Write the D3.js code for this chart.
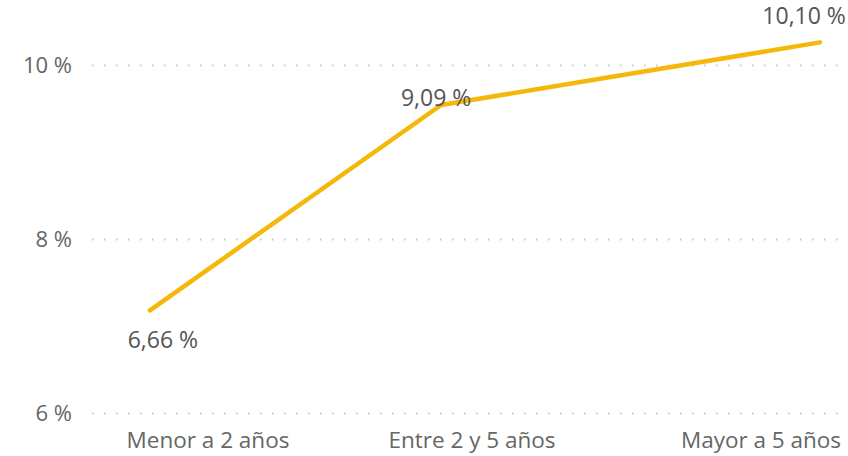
<!DOCTYPE html>
<html>
<head>
<meta charset="utf-8">
<script src="https://cdn.jsdelivr.net/npm/d3@7"></script>
<style>
  body { margin: 0; background: #fff; }
  text { font-family: "Open Sans", "Noto Sans", sans-serif; }
</style>
</head>
<body>
<div id="chart"></div>
<script>
// categories and their label positions (in category units)
var categories = ["Menor a 2 años", "Entre 2 y 5 años", "Mayor a 5 años"];
var categoryPos = [0, 0.955, 2];
// line points as they sit in the picture
var pointPos = [-0.21, 0.843, 2.213];
var pointValues = [7.18, 9.54, 10.26];
var pointLabels = ["6,66 %", "9,09 %", "10,10 %"];
var yTicks = [6, 8, 10];

var W = 848, H = 456;

var x = d3.scaleLinear().domain([0, 2]).range([208, 761]);
var y = d3.scaleLinear().domain([6, 10]).range([413, 65]);

var svg = d3.select("#chart").append("svg")
  .attr("width", W)
  .attr("height", H);

// gridlines (dotted)
var yAxis = d3.axisLeft(y)
  .tickValues(yTicks)
  .tickSize(-748)
  .tickPadding(20)
  .tickFormat(function(d) { return d + " %"; });

var gy = svg.append("g")
  .attr("transform", "translate(92,0)")
  .call(yAxis);
gy.select(".domain").remove();
gy.selectAll("line")
  .attr("stroke", "#c8c8c8")
  .attr("stroke-width", 2)
  .attr("stroke-dasharray", "1.5,10.5");
gy.selectAll("text")
  .attr("fill", "#666")
  .attr("font-size", 22)
  .attr("x", -20);

// category labels
svg.append("g").selectAll("text")
  .data(categories)
  .enter().append("text")
    .attr("x", function(d, i) { return x(categoryPos[i]); })
    .attr("y", 448)
    .attr("text-anchor", "middle")
    .attr("fill", "#666")
    .attr("font-size", 22.5)
    .text(function(d) { return d; });

// the line
var pts = pointValues.map(function(v, i) { return [pointPos[i], v]; });
var line = d3.line()
  .x(function(d) { return x(d[0]); })
  .y(function(d) { return y(d[1]); });

svg.append("path")
  .datum(pts)
  .attr("d", line)
  .attr("fill", "none")
  .attr("stroke", "#F5B80A")
  .attr("stroke-width", 4.5)
  .attr("stroke-linecap", "round")
  .attr("stroke-linejoin", "round");

// data labels (last one kept inside the right edge)
var labelOffset = [[13, 38], [-5, 1], [26, -18]];
var labelAnchor = ["middle", "middle", "end"];
svg.append("g").selectAll("text")
  .data(pointLabels)
  .enter().append("text")
    .attr("x", function(d, i) { return x(pointPos[i]) + labelOffset[i][0]; })
    .attr("y", function(d, i) { return y(pointValues[i]) + labelOffset[i][1]; })
    .attr("text-anchor", function(d, i) { return labelAnchor[i]; })
    .attr("fill", "#555")
    .attr("font-size", 23)
    .text(function(d) { return d; });
</script>
</body>
</html>
